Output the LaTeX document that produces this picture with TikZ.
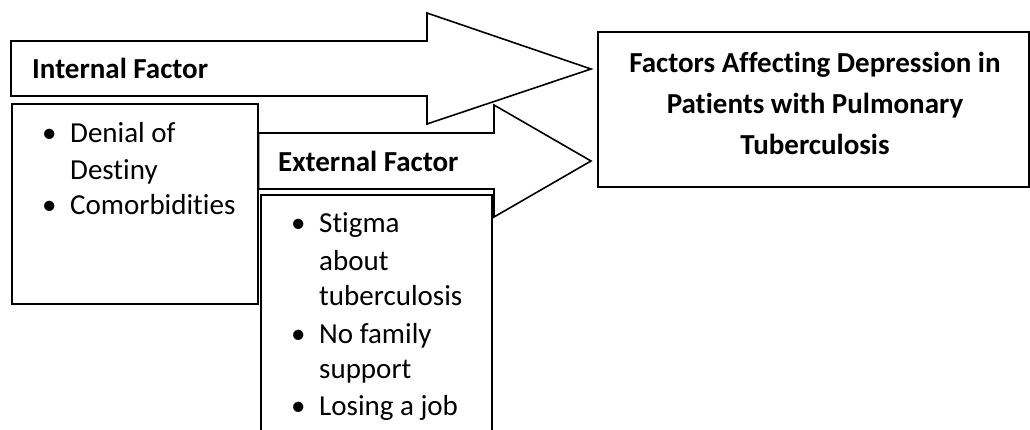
\documentclass[tikz,border=0pt]{standalone}
\usepackage{fontspec}
\setmainfont{Carlito}[Ligatures=NoCommon]
\begin{document}
\begin{tikzpicture}[x=1pt,y=-1pt,
  shape line/.style={draw=black,line width=1.6pt,fill=white,line join=miter},
  boxnode/.style={draw=black,line width=1.6pt,fill=white,rectangle,inner sep=0pt,anchor=north west},
  lbl/.style={font=\fontsize{29}{36}\selectfont\bfseries,anchor=base west,inner sep=0pt},
  item/.style={font=\fontsize{29}{36}\selectfont,anchor=base west,inner sep=0pt},
  bul/.style={font=\fontsize{29}{36}\selectfont,anchor=base west,inner sep=0pt}]
\useasboundingbox (0,0) rectangle (1030,430);
\clip (0,0) rectangle (1030,430);
\fill[white] (0,0) rectangle (1030,430);

% target box
\node[boxnode,minimum width=431pt,minimum height=155pt] (target) at (597,31) {};
\node[font=\fontsize{29}{41}\selectfont\bfseries,align=center,inner sep=0pt,anchor=north] (title) at (815,52)
  {Factors Affecting Depression in\\Patients with Pulmonary\\Tuberculosis};

% internal block arrow
\coordinate (itip) at (591,69);
\draw[shape line] (11,41) -- (427,41) -- (427,13) -- (itip) -- (427,124) -- (427,96) -- (11,96) -- cycle;
\node[lbl] (intlbl) at (32,79) {Internal Factor};

% internal box
\node[boxnode,minimum width=246pt,minimum height=200pt] (intbox) at (11,103) {};
\node[bul] (ib1) at (42,143) {•};
\node[item] (i1) at (70,143) {Denial of};
\node[item] (i1b) at (70,180) {Destiny};
\node[bul] (ib2) at (42,215) {•};
\node[item] (i2) at (70,215) {Comorbidities};

% external block arrow
\coordinate (etip) at (591,161);
\draw[shape line] (intbox.east |- 0,133) -- (494,133) -- (494,105) -- (etip) -- (494,217) -- (494,189) -- (intbox.east |- 0,189) -- cycle;
\node[lbl] (extlbl) at (278,172) {External Factor};

% external box
\node[boxnode,minimum width=231pt,minimum height=260pt] (extbox) at (260,194) {};
\node[bul] (eb1) at (291,233) {•};
\node[item] (e1) at (319,233) {Stigma};
\node[item] (e1b) at (319,270) {about};
\node[item] (e1c) at (319,305) {tuberculosis};
\node[bul] (eb2) at (291,343) {•};
\node[item] (e2) at (319,343) {No family};
\node[item] (e2b) at (319,378) {support};
\node[bul] (eb3) at (291,415) {•};
\node[item] (e3) at (319,415) {Losing a job};
\end{tikzpicture}
\end{document}
